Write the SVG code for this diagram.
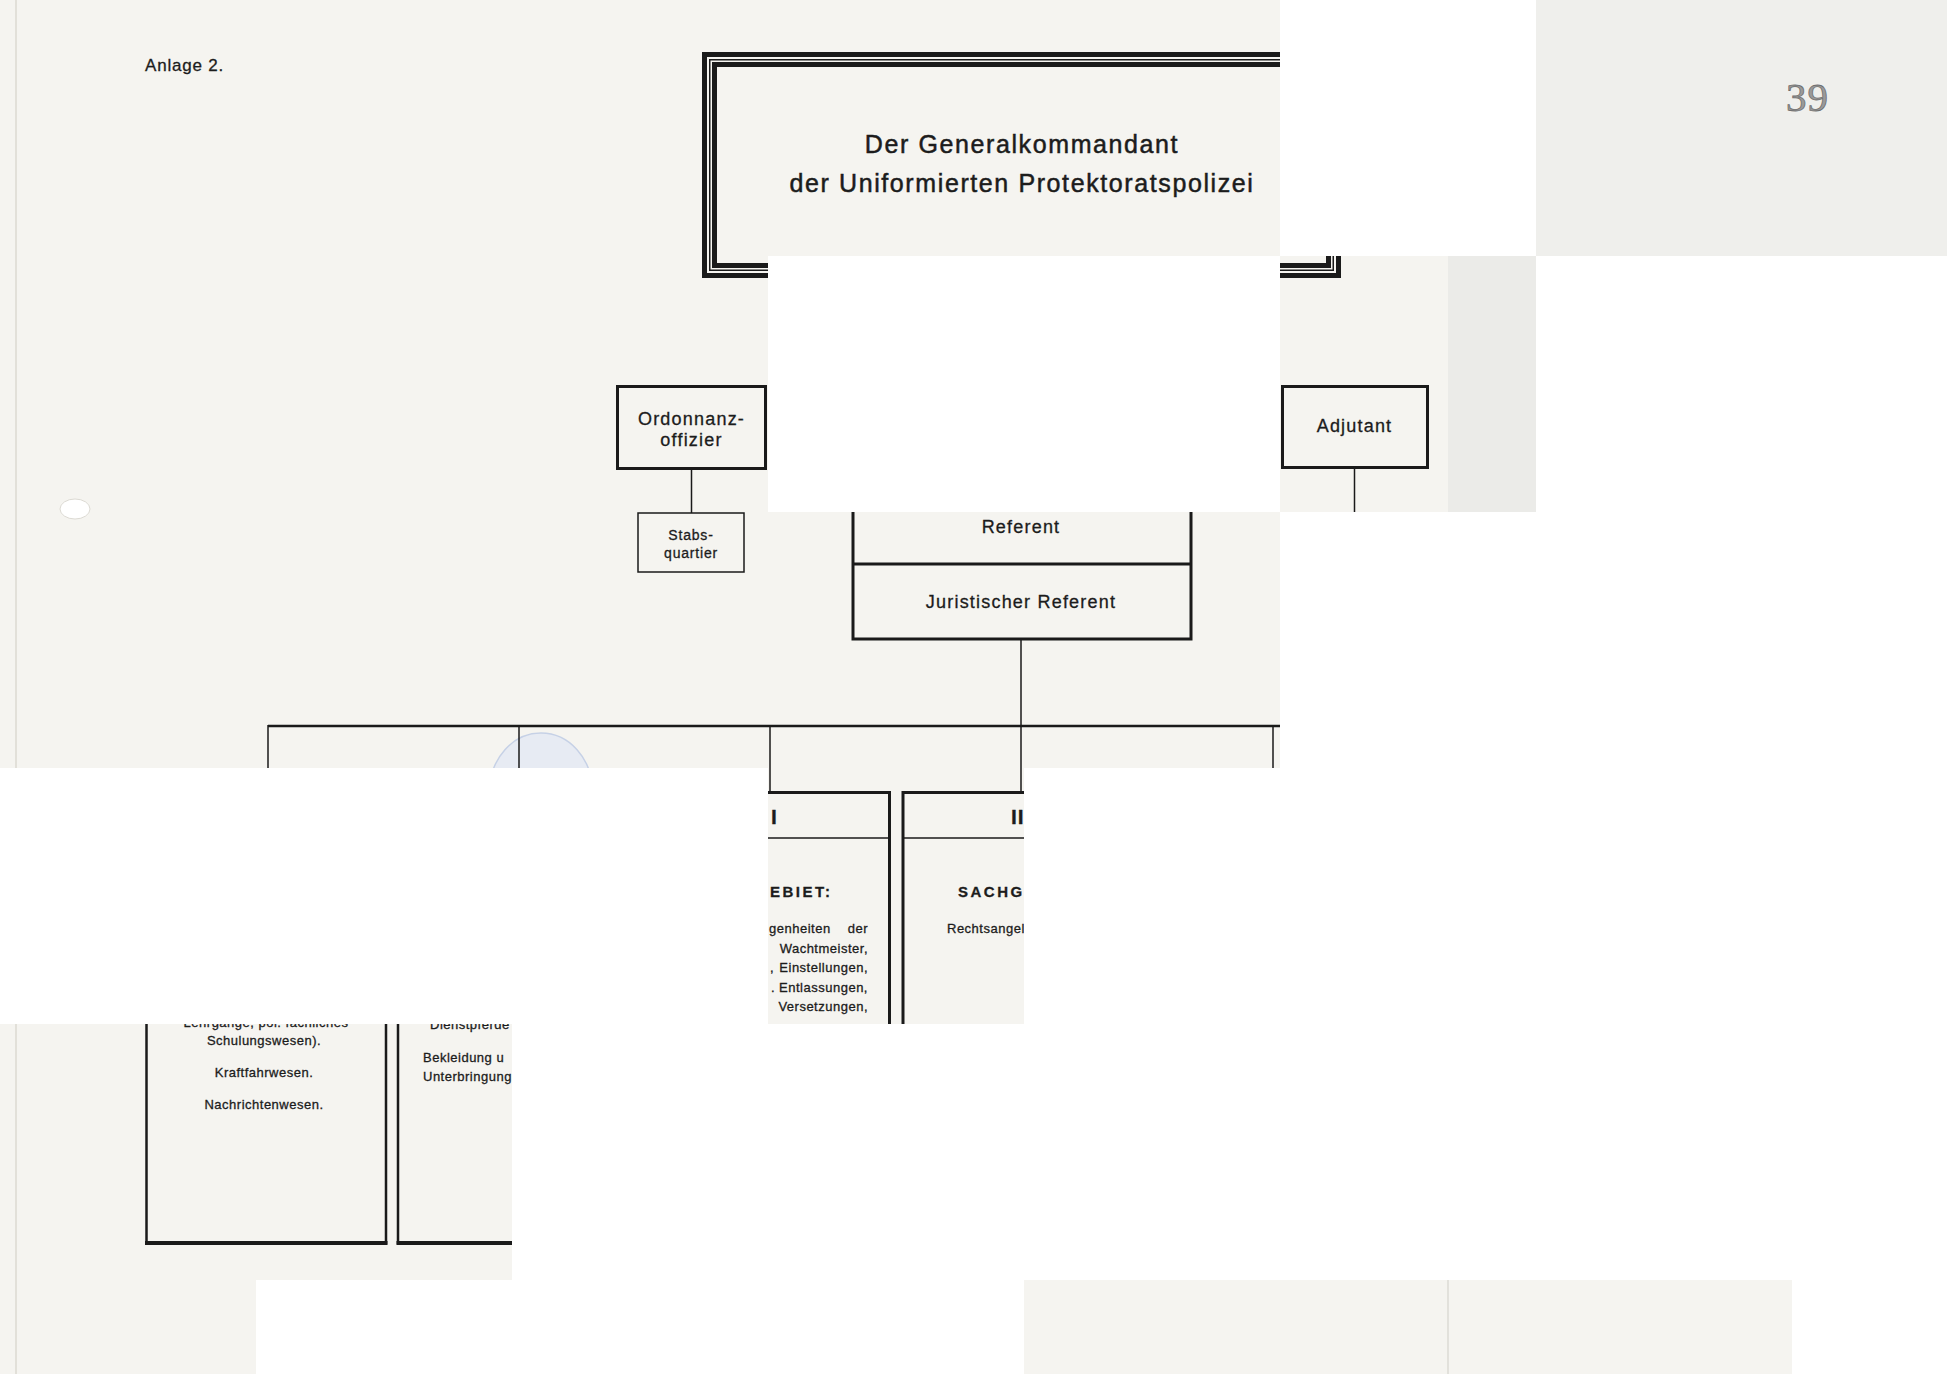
<svg xmlns="http://www.w3.org/2000/svg" width="1947" height="1374" viewBox="0 0 1947 1374">
<defs>
<style>
.t{font-family:"Liberation Sans",Arial,sans-serif;fill:#1c1c1c;stroke:#1c1c1c;stroke-width:0.3px}
.lab{font-size:18px;letter-spacing:1.2px;text-anchor:middle}
.sm{font-size:14px;letter-spacing:0.8px;text-anchor:middle}
.body{font-size:13px;letter-spacing:0.5px}
.hd{font-size:15px;font-weight:bold;letter-spacing:2.5px}
.num{font-size:21px;font-weight:bold}
.box{fill:none;stroke:#1a1a1a;stroke-width:3}
.thin{fill:none;stroke:#1a1a1a;stroke-width:1.5}
.paper{fill:#f5f4f0}
</style>
<clipPath id="cFrame">
<rect x="0" y="0" width="1280" height="256"/>
<rect x="512" y="256" width="256" height="256"/>
<rect x="1280" y="256" width="256" height="256"/>
</clipPath>
<clipPath id="cT33"><rect x="768" y="768" width="256" height="256"/></clipPath>
<clipPath id="cR4"><rect x="0" y="1024" width="512" height="256"/></clipPath>
<clipPath id="cR2"><rect x="0" y="512" width="1280" height="256"/></clipPath>
</defs>
<rect width="1947" height="1374" fill="#ffffff"/>
<g id="paper">
<rect class="paper" x="0" y="0" width="1280" height="256"/>
<rect x="1536" y="0" width="411" height="256" fill="#efefec"/>
<rect class="paper" x="0" y="256" width="768" height="256"/>
<rect class="paper" x="1280" y="256" width="168" height="256"/>
<rect x="1448" y="256" width="88" height="256" fill="#ebebe8"/>
<rect class="paper" x="0" y="512" width="1280" height="256"/>
<rect class="paper" x="768" y="768" width="256" height="256"/>
<rect class="paper" x="0" y="1024" width="512" height="256"/>
<rect class="paper" x="0" y="1280" width="256" height="94"/>
<rect class="paper" x="1024" y="1280" width="768" height="94"/>
<line x1="1448" y1="1280" x2="1448" y2="1374" stroke="#d6d4ce" stroke-width="1.2"/>
<line x1="16" y1="0" x2="16" y2="768" stroke="#e2e0d9" stroke-width="2"/>
<line x1="16" y1="1024" x2="16" y2="1374" stroke="#e2e0d9" stroke-width="2"/>
<ellipse cx="75" cy="509" rx="15" ry="10" fill="#ffffff" stroke="#dcdad3" stroke-width="1"/>
<ellipse cx="541" cy="790" rx="51" ry="57" fill="#e3e9f4" fill-opacity="0.8" stroke="#c6d1e6" stroke-width="1.5" clip-path="url(#cR2)"/>
</g>
<text class="t" x="145" y="71" font-size="17" letter-spacing="0.8">Anlage 2.</text>
<text x="1786" y="111" font-family="Liberation Serif, serif" font-size="41" fill="#9a9a9a" stroke="#6e6e6e" stroke-width="0.8" letter-spacing="1">39</text>
<g id="title">
<g clip-path="url(#cFrame)">
<rect x="704.5" y="54.5" width="634" height="221" fill="none" stroke="#1a1a1a" stroke-width="5"/>
<rect x="709.75" y="59.75" width="623.5" height="210.5" fill="none" stroke="#1a1a1a" stroke-width="1.5"/>
<rect x="714.5" y="64.5" width="614" height="201" fill="none" stroke="#1a1a1a" stroke-width="5"/>
</g>
<text class="t" x="1022" y="153" font-size="25" letter-spacing="1.6" text-anchor="middle" style="stroke-width:0.5px">Der Generalkommandant</text>
<text class="t" x="1022" y="192" font-size="25" letter-spacing="1.6" text-anchor="middle" style="stroke-width:0.5px">der Uniformierten Protektoratspolizei</text>
</g>
<g id="ordonnanz">
<rect class="box" x="617.5" y="386.5" width="148" height="82"/>
<text class="t lab" x="691.5" y="425" letter-spacing="1">Ordonnanz-</text>
<text class="t lab" x="691.5" y="446" letter-spacing="1">offizier</text>
</g>
<g id="stabsquartier">
<rect class="thin" x="638" y="513" width="106" height="59"/>
<text class="t sm" x="691" y="540">Stabs-</text>
<text class="t sm" x="691" y="558">quartier</text>
</g>
<g id="adjutant">
<rect class="box" x="1282.5" y="386.5" width="145" height="81"/>
<text class="t lab" x="1354.5" y="432" letter-spacing="1.3">Adjutant</text>
</g>
<g id="referent">
<path class="box" d="M853,512 V639 H1191 V512"/>
<line x1="853" y1="564" x2="1191" y2="564" stroke="#1a1a1a" stroke-width="3"/>
<text class="t lab" x="1021" y="533">Referent</text>
<text class="t lab" x="1021" y="608">Juristischer Referent</text>
</g>
<g id="connectors" stroke="#1a1a1a" fill="none">
<line x1="691.5" y1="469" x2="691.5" y2="513" stroke-width="1.5"/>
<line x1="1354.5" y1="468" x2="1354.5" y2="512" stroke-width="1.5"/>
<line x1="1021" y1="640" x2="1021" y2="726" stroke-width="1.5"/>
<line x1="268" y1="726" x2="1280" y2="726" stroke-width="2.5"/>
<line x1="268" y1="725" x2="268" y2="768" stroke-width="1.5"/>
<line x1="519" y1="726" x2="519" y2="768" stroke-width="1.5"/>
<line x1="770" y1="726" x2="770" y2="792" stroke-width="1.5"/>
<line x1="1021" y1="726" x2="1021" y2="792" stroke-width="1.5"/>
<line x1="1273" y1="726" x2="1273" y2="768" stroke-width="1.5"/>
</g>
<g id="abteilung-I" clip-path="url(#cT33)">
<path class="box" d="M768,792.5 H889.5 V1024"/>
<line x1="768" y1="838" x2="889" y2="838" stroke="#1a1a1a" stroke-width="1.5"/>
<text class="t num" x="774" y="823.5" text-anchor="middle">I</text>
<text class="t hd" x="770" y="897">EBIET:</text>
<text class="t body" x="769" y="933">genheiten</text>
<text class="t body" x="868" y="933" text-anchor="end">der</text>
<text class="t body" x="868" y="953" text-anchor="end">Wachtmeister,</text>
<text class="t body" x="770" y="972">,</text>
<text class="t body" x="868" y="972" text-anchor="end">Einstellungen,</text>
<text class="t body" x="771" y="992">.</text>
<text class="t body" x="868" y="992" text-anchor="end">Entlassungen,</text>
<text class="t body" x="868" y="1011" text-anchor="end">Versetzungen,</text>
</g>
<g id="abteilung-II" clip-path="url(#cT33)">
<path class="box" d="M1024,792.5 H903 V1024" stroke-width="3.5"/>
<line x1="903" y1="838" x2="1024" y2="838" stroke="#1a1a1a" stroke-width="1.5"/>
<text class="t num" x="1011" y="823.5" letter-spacing="1">II</text>
<text class="t hd" x="958" y="897" letter-spacing="1.5">SACHGE</text>
<text class="t body" x="947" y="933">Rechtsangel</text>
</g>
<g id="abteilung-links" clip-path="url(#cR4)">
<path d="M146.5,1024 V1243 H386 V1024" fill="none" stroke="#1a1a1a" stroke-width="2.5"/>
<line x1="145" y1="1243" x2="387.5" y2="1243" stroke="#1a1a1a" stroke-width="4"/>
<text class="t body" x="266" y="1027" text-anchor="middle">Lehrgänge, pol. fachliches</text>
<text class="t body" x="264" y="1045" text-anchor="middle">Schulungswesen).</text>
<text class="t body" x="264" y="1077" text-anchor="middle">Kraftfahrwesen.</text>
<text class="t body" x="264" y="1109" text-anchor="middle">Nachrichtenwesen.</text>
</g>
<g id="abteilung-links2" clip-path="url(#cR4)">
<path d="M398,1024 V1243 H512" fill="none" stroke="#1a1a1a" stroke-width="2.5"/>
<line x1="396.5" y1="1243" x2="512" y2="1243" stroke="#1a1a1a" stroke-width="4"/>
<text class="t body" x="430" y="1029">Dienstpferde</text>
<text class="t body" x="423" y="1062">Bekleidung u</text>
<text class="t body" x="423" y="1081">Unterbringung</text>
</g>
</svg>
